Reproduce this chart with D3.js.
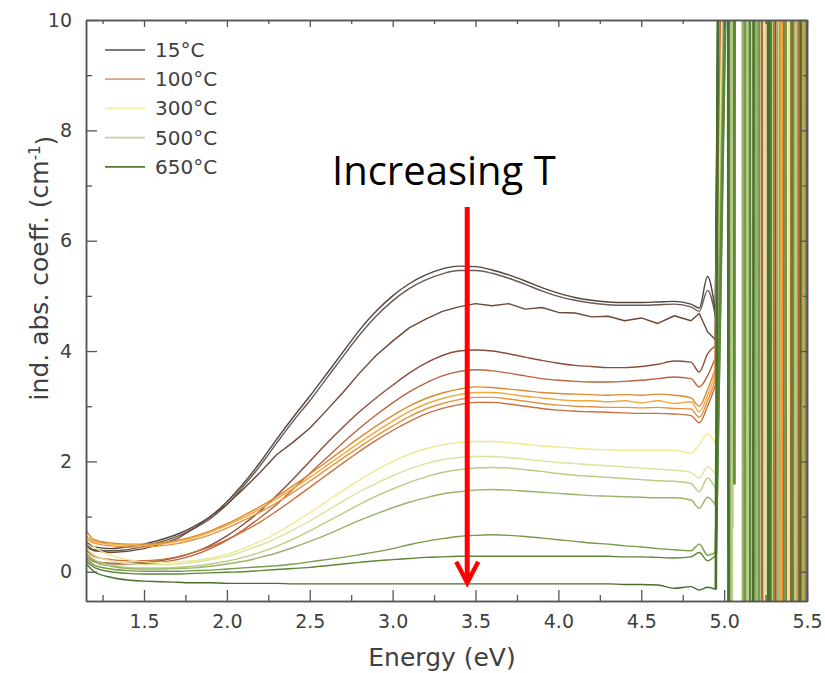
<!DOCTYPE html>
<html>
<head>
<meta charset="utf-8">
<script src="https://cdn.jsdelivr.net/npm/d3@7"></script>
<style>
  html, body { margin: 0; padding: 0; background: #ffffff; }
  svg { display: block; }
</style>
</head>
<body>
<svg id="chart" width="825" height="673"></svg>
<script>
// ---- Data ---------------------------------------------------------------
// Photon energy grid (eV) shared by all spectra
const energies = [1.15, 1.2, 1.3, 1.4, 1.5, 1.6, 1.7, 1.8, 1.9, 2.0,
                  2.1, 2.2, 2.3, 2.4, 2.5, 2.6, 2.7, 2.8, 2.9, 3.0,
                  3.1, 3.2, 3.3, 3.4, 3.5, 3.6, 3.7, 3.8, 3.9, 4.0,
                  4.1, 4.2, 4.3, 4.4, 4.5, 4.6, 4.7, 4.8, 4.85, 4.9, 4.95];

// Induced absorption coefficient (cm^-1), one array per annealing step
const curve01 = [0.55,0.45,0.42,0.45,0.5, 0.58,0.68,0.82,1.0,1.27, 1.6,1.98,2.4,2.8,3.18, 3.58,3.98,4.38,4.72,5.0, 5.22,5.38,5.49,5.54,5.53, 5.47,5.38,5.27,5.15,5.05, 4.97,4.92,4.89,4.88,4.88, 4.89,4.9,4.85,4.78,5.35, 4.65];
const curve02 = [0.5,0.4,0.38,0.4,0.46, 0.54,0.64,0.78,0.96,1.22, 1.55,1.92,2.33,2.73,3.1, 3.5,3.9,4.29,4.63,4.91, 5.13,5.29,5.4,5.46,5.46, 5.41,5.32,5.21,5.09,4.99, 4.92,4.87,4.84,4.83,4.83, 4.84,4.85,4.8,4.72,5.1, 4.6];
const curve03 = [0.45,0.38,0.35,0.37,0.42, 0.5,0.6,0.78,1.0,1.22, 1.5,1.8,2.12,2.35,2.6, 2.92,3.25,3.6,3.92,4.18, 4.42,4.58,4.72,4.8,4.86, 4.82,4.86,4.76,4.79,4.7, 4.69,4.62,4.63,4.55,4.6, 4.5,4.64,4.55,4.68,4.35, 4.2];
const curve04 = [0.3,0.18,0.15,0.15,0.17, 0.2,0.26,0.35,0.48,0.65, 0.86,1.1,1.38,1.68,2.0, 2.32,2.62,2.9,3.15,3.38, 3.6,3.78,3.92,4.0,4.02, 4.0,3.95,3.89,3.83,3.78, 3.74,3.72,3.7,3.7,3.72, 3.76,3.82,3.8,3.62,3.95, 4.1];
const curve05 = [0.35,0.2,0.15,0.14,0.15, 0.17,0.22,0.3,0.42,0.57, 0.76,0.98,1.22,1.5,1.78, 2.06,2.34,2.6,2.84,3.06, 3.26,3.42,3.55,3.63,3.66, 3.64,3.6,3.55,3.5,3.47, 3.45,3.44,3.44,3.45,3.47, 3.5,3.53,3.5,3.35,3.55, 3.9];
const curve06 = [0.75,0.58,0.52,0.5,0.5, 0.52,0.57,0.64,0.74,0.87, 1.02,1.18,1.36,1.56,1.77, 1.99,2.21,2.43,2.64,2.83, 3.0,3.14,3.24,3.31,3.35, 3.34,3.31,3.28,3.25,3.23, 3.22,3.21,3.2,3.21,3.2, 3.22,3.2,3.15,3.0,3.3, 3.7];
const curve07 = [0.65,0.55,0.5,0.48,0.48, 0.5,0.55,0.62,0.72,0.84, 0.98,1.14,1.32,1.51,1.71, 1.92,2.13,2.34,2.54,2.73, 2.9,3.04,3.14,3.21,3.25, 3.25,3.22,3.18,3.15,3.12, 3.1,3.1,3.08,3.1,3.06, 3.1,3.05,3.08,2.9,3.2, 3.6];
const curve08 = [0.6,0.52,0.47,0.45,0.45, 0.47,0.51,0.58,0.67,0.79, 0.93,1.08,1.25,1.44,1.64, 1.85,2.06,2.26,2.46,2.64, 2.81,2.95,3.05,3.12,3.16, 3.16,3.13,3.09,3.05,3.02, 3.0,2.99,2.98,2.98,2.97, 2.98,2.96,2.95,2.8,3.1, 3.5];
const curve09 = [0.4,0.28,0.22,0.2,0.2, 0.22,0.27,0.35,0.45,0.58, 0.73,0.9,1.1,1.31,1.53, 1.75,1.97,2.18,2.38,2.56, 2.72,2.86,2.96,3.03,3.07, 3.07,3.04,3.0,2.96,2.93, 2.91,2.9,2.89,2.88,2.87, 2.87,2.86,2.83,2.7,3.0, 3.4];
const curve10 = [0.6,0.45,0.3,0.22,0.18, 0.17,0.18,0.2,0.25,0.32, 0.42,0.55,0.7,0.88,1.07, 1.27,1.47,1.66,1.84,2.0, 2.13,2.23,2.3,2.34,2.36, 2.36,2.34,2.31,2.28,2.26, 2.24,2.22,2.21,2.2,2.2, 2.2,2.2,2.15,2.3,2.5, 2.3];
const curve11 = [0.45,0.3,0.2,0.15,0.13, 0.13,0.14,0.17,0.22,0.28, 0.37,0.48,0.61,0.76,0.92, 1.1,1.28,1.45,1.6,1.74, 1.86,1.96,2.03,2.07,2.09, 2.09,2.07,2.04,2.01,1.98, 1.96,1.94,1.92,1.9,1.88, 1.86,1.84,1.8,1.7,1.9, 1.75];
const curve12 = [0.35,0.22,0.12,0.08,0.07, 0.07,0.08,0.1,0.14,0.19, 0.26,0.35,0.46,0.59,0.74, 0.9,1.06,1.22,1.37,1.5, 1.62,1.72,1.8,1.85,1.88, 1.89,1.88,1.85,1.82,1.78, 1.75,1.73,1.71,1.69,1.67, 1.65,1.64,1.6,1.45,1.7, 1.5];
const curve13 = [0.3,0.18,0.1,0.06,0.05, 0.05,0.06,0.07,0.1,0.14, 0.19,0.26,0.34,0.44,0.55, 0.67,0.8,0.93,1.05,1.16, 1.26,1.34,1.41,1.45,1.48, 1.49,1.48,1.46,1.44,1.42, 1.4,1.38,1.37,1.36,1.35, 1.34,1.34,1.3,1.15,1.35, 1.2];
const curve14 = [0.25,0.12,0.05,0.02,0.01, 0.01,0.01,0.02,0.03,0.05, 0.07,0.09,0.11,0.14,0.18, 0.22,0.26,0.31,0.36,0.42, 0.49,0.55,0.6,0.64,0.66, 0.67,0.66,0.64,0.61,0.58, 0.55,0.52,0.5,0.47,0.45, 0.42,0.4,0.38,0.5,0.3, 0.35];
const curve15 = [0.2,0.08,0.0,-0.03,-0.04, -0.04,-0.04,-0.03,-0.02,-0.01, 0.0,0.02,0.04,0.06,0.08, 0.11,0.14,0.17,0.2,0.22, 0.24,0.26,0.27,0.28,0.28, 0.28,0.28,0.28,0.28,0.28, 0.28,0.28,0.28,0.27,0.27, 0.26,0.25,0.27,0.35,0.2, 0.3];
const curve16 = [0.15,0.0,-0.1,-0.15,-0.17, -0.18,-0.19,-0.2,-0.2,-0.21, -0.21,-0.21,-0.21,-0.22,-0.22, -0.22,-0.22,-0.22,-0.22,-0.22, -0.22,-0.22,-0.22,-0.22,-0.22, -0.22,-0.22,-0.22,-0.22,-0.22, -0.22,-0.22,-0.22,-0.23,-0.23, -0.24,-0.3,-0.27,-0.33,-0.28, -0.32];

// Beyond the band edge the signal diverges: [energy, value] pairs swinging off-scale
const tail01 = [[4.972,12],[5.37,12],[5.373,-1],[5.5,-1]];
const tail02 = [[4.975,12],[5.45,12],[5.452,-1],[5.5,-1]];
const tail03 = [[4.968,12],[5.31,12],[5.312,-1],[5.49,-1],[5.492,12]];
const tail04 = [[4.978,12],[5.262,12],[5.264,-1],[5.40,-1],[5.402,12]];
const tail05 = [[4.982,12],[5.228,12],[5.23,-1],[5.356,-1],[5.358,12]];
const tail06 = [[4.985,12],[5.338,12],[5.34,-1],[5.44,-1],[5.442,12]];
const tail07 = [[4.988,12],[5.20,12],[5.202,-1],[5.345,-1],[5.347,12]];
const tail08 = [[4.99,12],[5.474,12],[5.476,-1],[5.5,-1]];
const tail09 = [[4.992,12],[5.30,12],[5.302,-1],[5.418,-1],[5.42,12]];
const tail10 = [[5.0,12],[5.17,12],[5.172,-1],[5.39,-1],[5.392,12]];
const tail11 = [[5.005,12],[5.05,12],[5.052,0.8],[5.054,12],[5.248,12],[5.25,-1],[5.46,-1],[5.462,12]];
const tail12 = [[5.01,12],[5.045,12],[5.047,-1],[5.14,-1],[5.142,12],[5.285,12],[5.287,-1],[5.43,-1],[5.432,12]];
const tail13 = [[5.012,12],[5.112,12],[5.114,-1],[5.19,-1],[5.192,12],[5.32,12],[5.322,-1],[5.483,-1],[5.485,12]];
const tail14 = [[5.015,12],[5.03,12],[5.032,-1],[5.125,-1],[5.127,12],[5.21,12],[5.212,-1],[5.37,-1],[5.372,12]];
const tail15 = [[5.018,12],[5.06,12],[5.062,1.6],[5.064,12],[5.155,12],[5.157,-1],[5.28,-1],[5.282,12],[5.41,12],[5.412,-1]];
const tail16 = [[4.965,12],[5.024,12],[5.026,-1],[5.176,-1],[5.178,12],[5.27,12],[5.272,-1],[5.46,-1],[5.462,12]];

// Legend entries
const legendLabels = ["15°C", "100°C", "300°C", "500°C", "650°C"];

// Axis ticks
const xMajorTicks = [1.5, 2.0, 2.5, 3.0, 3.5, 4.0, 4.5, 5.0, 5.5];
const xMinorTicks = [1.25, 1.75, 2.25, 2.75, 3.25, 3.75, 4.25, 4.75, 5.25];
const yMajorTicks = [0, 2, 4, 6, 8, 10];
const yMinorTicks = [1, 3, 5, 7, 9];

// Annotation: arrow position and extent (data units)
const arrowEnergy = 3.45;
const arrowTop = 6.61;
const arrowBottom = -0.2;

// ---- Styles -------------------------------------------------------------
const lineColors = ["#514540", "#6a5a52", "#6b4836", "#8c4d3c", "#b8653f",
                    "#dd8a30", "#f0a83c", "#e39440", "#cc6e3e", "#f1e88e",
                    "#d9e39a", "#b9cd84", "#9bb26a", "#779a48", "#5b8737", "#46702d"];
const legendColors = ["#7a7a7a", "#e0a07c", "#eeeeaa", "#c4d2a0", "#4f7a2c"];
const axisColor = "#555555";
const textColor = "#404040";
const font = "'DejaVu Sans', Verdana, sans-serif";

// ---- Layout ---------------------------------------------------------------
const plotLeft = 86, plotRight = 807, plotTop = 20, plotBottom = 601;

const x = d3.scaleLinear().domain([1.15, 5.5]).range([plotLeft, plotRight]);
const y = d3.scaleLinear().domain([-0.53, 10]).range([plotBottom, plotTop]);

const svg = d3.select("#chart");

svg.append("defs").append("clipPath").attr("id", "plot-clip")
  .append("rect")
  .attr("x", plotLeft).attr("y", plotTop)
  .attr("width", plotRight - plotLeft).attr("height", plotBottom - plotTop);

const curves = [curve01, curve02, curve03, curve04, curve05, curve06, curve07, curve08,
                curve09, curve10, curve11, curve12, curve13, curve14, curve15, curve16];
const tails = [tail01, tail02, tail03, tail04, tail05, tail06, tail07, tail08,
               tail09, tail10, tail11, tail12, tail13, tail14, tail15, tail16];

const smoothLine = d3.line().x(d => x(d[0])).y(d => y(d[1])).curve(d3.curveMonotoneX);
const jaggedLine = d3.line().x(d => x(d[0])).y(d => y(d[1])).curve(d3.curveLinear);

const plot = svg.append("g").attr("clip-path", "url(#plot-clip)");

curves.forEach((vals, i) => {
  const pts = energies.map((e, j) => [e, vals[j]]);
  plot.append("path")
    .attr("d", (i === 2 ? jaggedLine : smoothLine)(pts))
    .attr("fill", "none")
    .attr("stroke", lineColors[i])
    .attr("stroke-width", 1.4)
    .attr("stroke-linejoin", "round");
});

// divergent region above the band edge, drawn over the spectra
curves.forEach((vals, i) => {
  const start = [energies[energies.length - 1], vals[vals.length - 1]];
  plot.append("path")
    .attr("d", jaggedLine([start, ...tails[i]]))
    .attr("fill", "none")
    .attr("stroke", lineColors[i])
    .attr("stroke-width", 2.6)
    .attr("stroke-linejoin", "round");
});

// ---- Axes -----------------------------------------------------------------
function styleAxis(g) {
  g.selectAll("path.domain").attr("stroke", axisColor).attr("stroke-width", 1.5);
  g.selectAll(".tick line").attr("stroke", axisColor).attr("stroke-width", 1.3);
  g.selectAll(".tick text").attr("fill", textColor).style("font-family", font).style("font-size", "19px");
}

// bottom
svg.append("g").attr("transform", `translate(0,${plotBottom})`)
  .call(d3.axisBottom(x).tickValues(xMinorTicks).tickSize(-6).tickSizeOuter(0).tickFormat(""))
  .call(styleAxis);
svg.append("g").attr("transform", `translate(0,${plotBottom})`)
  .call(d3.axisBottom(x).tickValues(xMajorTicks).tickSize(-11).tickSizeOuter(0)
        .tickPadding(14).tickFormat(d3.format(".1f")))
  .call(styleAxis);

// top (mirrored, no labels)
svg.append("g").attr("transform", `translate(0,${plotTop})`)
  .call(d3.axisTop(x).tickValues(xMinorTicks).tickSize(-4).tickSizeOuter(0).tickFormat(""))
  .call(styleAxis);
svg.append("g").attr("transform", `translate(0,${plotTop})`)
  .call(d3.axisTop(x).tickValues(xMajorTicks).tickSize(-7).tickSizeOuter(0).tickFormat(""))
  .call(styleAxis);

// left
svg.append("g").attr("transform", `translate(${plotLeft},0)`)
  .call(d3.axisLeft(y).tickValues(yMinorTicks).tickSize(-6).tickSizeOuter(0).tickFormat(""))
  .call(styleAxis);
svg.append("g").attr("transform", `translate(${plotLeft},0)`)
  .call(d3.axisLeft(y).tickValues(yMajorTicks).tickSize(-11).tickSizeOuter(0)
        .tickPadding(14).tickFormat(d3.format("d")))
  .call(styleAxis);

// right (mirrored, no labels)
svg.append("g").attr("transform", `translate(${plotRight},0)`)
  .call(d3.axisRight(y).tickValues(yMinorTicks).tickSize(-4).tickSizeOuter(0).tickFormat(""))
  .call(styleAxis);
svg.append("g").attr("transform", `translate(${plotRight},0)`)
  .call(d3.axisRight(y).tickValues(yMajorTicks).tickSize(-7).tickSizeOuter(0).tickFormat(""))
  .call(styleAxis);

// axis titles
svg.append("text")
  .attr("x", 442)
  .attr("y", 666)
  .attr("text-anchor", "middle")
  .attr("fill", textColor)
  .style("font-family", font)
  .style("font-size", "25px")
  .text("Energy (eV)");

const yTitle = svg.append("text")
  .attr("transform", "translate(48,268) rotate(-90)")
  .attr("text-anchor", "middle")
  .attr("fill", textColor)
  .style("font-family", font)
  .style("font-size", "25px");
yTitle.append("tspan").text("ind. abs. coeff. (cm");
yTitle.append("tspan").attr("dy", "-0.55em").style("font-size", "15px").text("-1");
yTitle.append("tspan").attr("dy", "0.55em").text(")");

// ---- Legend ---------------------------------------------------------------
const legend = svg.append("g").attr("transform", "translate(105,50)");
legendLabels.forEach((label, i) => {
  const row = legend.append("g").attr("transform", `translate(0,${i * 29.2})`);
  row.append("line")
    .attr("x1", 0).attr("x2", 40).attr("y1", 0).attr("y2", 0)
    .attr("stroke", legendColors[i]).attr("stroke-width", 1.8);
  row.append("text")
    .attr("x", 50).attr("y", 7)
    .attr("fill", textColor)
    .style("font-family", font)
    .style("font-size", "20px")
    .text(label);
});

// ---- Annotation -----------------------------------------------------------
svg.append("text")
  .attr("x", 332).attr("y", 185)
  .attr("fill", "#000000")
  .style("font-family", "'Open Sans', 'Noto Sans', sans-serif")
  .style("font-size", "40px")
  .text("Increasing T");

const ax = x(arrowEnergy);
svg.append("line")
  .attr("x1", ax).attr("x2", ax)
  .attr("y1", y(arrowTop)).attr("y2", y(arrowBottom) - 3)
  .attr("stroke", "#ff0000").attr("stroke-width", 5);
svg.append("path")
  .attr("d", `M${ax - 11},${y(arrowBottom) - 21} L${ax},${y(arrowBottom)} L${ax + 11},${y(arrowBottom) - 21}`)
  .attr("fill", "none")
  .attr("stroke", "#ff0000")
  .attr("stroke-width", 4.5)
  .attr("stroke-linejoin", "miter");
</script>
</body>
</html>
